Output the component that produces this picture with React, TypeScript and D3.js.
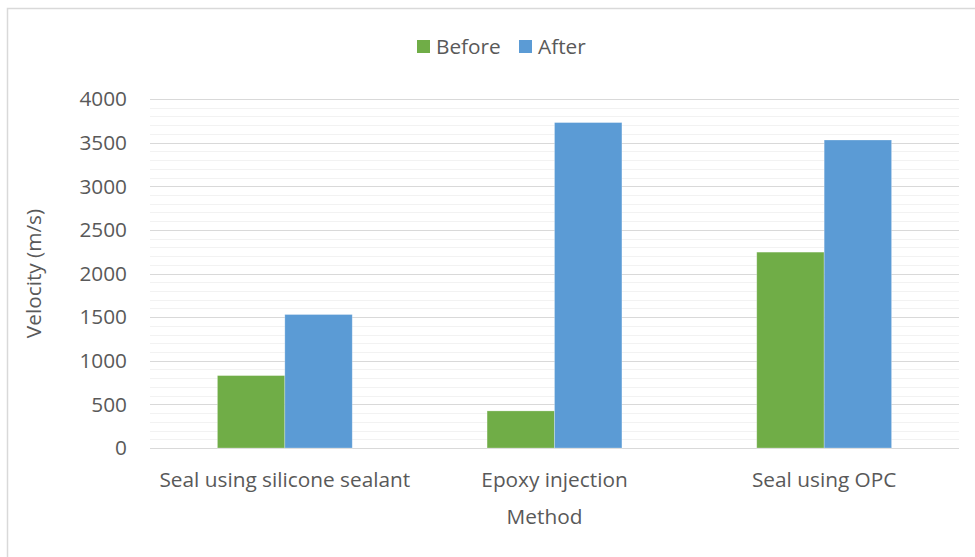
import React, { useEffect, useRef } from 'react';
import * as d3 from 'd3';

const categories = ['Seal using silicone sealant', 'Epoxy injection', 'Seal using OPC'];
const seriesNames = ['Before', 'After'];
const beforeValues = [830, 425, 2245];
const afterValues = [1530, 3730, 3530];
const yTicks = [0, 500, 1000, 1500, 2000, 2500, 3000, 3500, 4000];
const colors = ['#70ad47', '#5b9bd5'];

const width = 975;
const height = 557;
const FONT = '"Open Sans", "Noto Sans", sans-serif';
const FS = 20.8;

const App: React.FC = () => {
  const svgRef = useRef<SVGSVGElement | null>(null);

  useEffect(() => {
    if (!svgRef.current) return;
    const svg = d3.select(svgRef.current);
    svg.selectAll('*').remove();

    const margin = { top: 99, right: 16, bottom: 109, left: 150 };
    const innerWidth = width - margin.left - margin.right;
    const innerHeight = height - margin.top - margin.bottom;

    // chart area border
    svg
      .append('rect')
      .attr('x', 7.5)
      .attr('y', 8.5)
      .attr('width', width + 20)
      .attr('height', height + 20)
      .attr('fill', '#fff')
      .attr('stroke', '#d9d9d9')
      .attr('stroke-width', 1.5);

    const g = svg.append('g').attr('transform', `translate(${margin.left},${margin.top})`);

    const x0 = d3.scaleBand<string>().domain(categories).range([0, innerWidth]).paddingInner(0.5).paddingOuter(0.25);
    const x1 = d3.scaleBand<string>().domain(seriesNames).range([0, x0.bandwidth()]).padding(0);
    const y = d3.scaleLinear().domain([0, 4000]).range([innerHeight, 0]);

    // minor gridlines every 100
    const minor = d3.range(100, 4000, 100).filter(v => v % 500 !== 0);
    g.selectAll('.minor')
      .data(minor)
      .join('line')
      .attr('x1', 0)
      .attr('x2', innerWidth)
      .attr('y1', d => Math.round(y(d)) + 0.5)
      .attr('y2', d => Math.round(y(d)) + 0.5)
      .attr('stroke', '#f2f2f2')
      .attr('stroke-width', 1);

    g.selectAll('.major')
      .data(yTicks)
      .join('line')
      .attr('x1', 0)
      .attr('x2', innerWidth)
      .attr('y1', d => Math.round(y(d)) + 0.5)
      .attr('y2', d => Math.round(y(d)) + 0.5)
      .attr('stroke', '#d9d9d9')
      .attr('stroke-width', 1);

    const rows = categories.map((c, i) => ({ c, vals: [beforeValues[i], afterValues[i]] }));

    rows.forEach(row => {
      row.vals.forEach((v, si) => {
        g.append('rect')
          .attr('x', (x0(row.c) ?? 0) + (x1(seriesNames[si]) ?? 0))
          .attr('y', y(v))
          .attr('width', x1.bandwidth())
          .attr('height', innerHeight - y(v))
          .attr('fill', colors[si])
          .attr('stroke', 'rgba(255,255,255,0.35)')
          .attr('stroke-width', 0.75);
      });
    });

    // y tick labels
    g.selectAll('.ytick')
      .data(yTicks)
      .join('text')
      .attr('x', -23)
      .attr('y', d => y(d))
      .attr('dy', '0.35em')
      .attr('text-anchor', 'end')
      .attr('font-family', FONT)
      .attr('font-size', FS)
      .attr('fill', '#595959')
      .text(d => d);

    // x labels
    g.selectAll('.xtick')
      .data(categories)
      .join('text')
      .attr('x', d => (x0(d) ?? 0) + x0.bandwidth() / 2)
      .attr('y', innerHeight + 32)
      .attr('dy', '0.35em')
      .attr('text-anchor', 'middle')
      .attr('font-family', FONT)
      .attr('font-size', FS)
      .attr('fill', '#595959')
      .text(d => d);

    // axis titles
    svg
      .append('text')
      .attr('x', margin.left + innerWidth / 2 - 10)
      .attr('y', 517)
      .attr('dy', '0.35em')
      .attr('text-anchor', 'middle')
      .attr('font-family', FONT)
      .attr('font-size', FS)
      .attr('fill', '#595959')
      .text('Method');

    svg
      .append('text')
      .attr('transform', `translate(34,${margin.top + innerHeight / 2}) rotate(-90)`)
      .attr('dy', '0.35em')
      .attr('text-anchor', 'middle')
      .attr('font-family', FONT)
      .attr('font-size', FS)
      .attr('fill', '#595959')
      .text('Velocity (m/s)');

    // legend
    const legendX = [417, 519];
    seriesNames.forEach((name, i) => {
      svg
        .append('rect')
        .attr('x', legendX[i])
        .attr('y', 40)
        .attr('width', 13)
        .attr('height', 13)
        .attr('fill', colors[i]);
      svg
        .append('text')
        .attr('x', legendX[i] + 19)
        .attr('y', 46.5)
        .attr('dy', '0.35em')
        .attr('font-family', FONT)
        .attr('font-size', FS)
        .attr('fill', '#595959')
        .text(name);
    });
  }, []);

  return (
    <svg
      ref={svgRef}
      width={width}
      height={height}
      viewBox={`0 0 ${width} ${height}`}
      style={{ position: 'absolute', left: 0, top: 0, display: 'block' }}
    />
  );
};

export default App;
